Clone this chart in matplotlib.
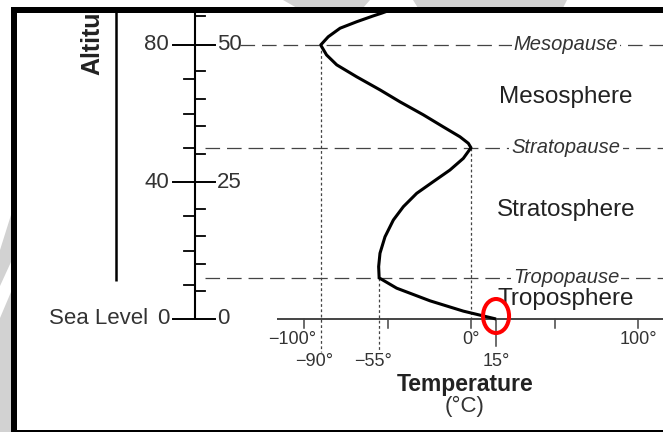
import matplotlib

matplotlib.use("Agg")
import matplotlib.patches as mpatches
import matplotlib.pyplot as plt

plt.rcParams["font.family"] = ["Liberation Sans", "DejaVu Sans"]
plt.rcParams["lines.scale_dashes"] = False

# temperature profile of the standard atmosphere (altitude km, temperature degC)
ALTITUDE_KM = [0, 2.3, 5.3, 9.0, 12,
               15.3, 19.2, 24.0, 28.9, 32.8, 36.7, 40.1, 43.5, 46.9, 49.0, 50,
               51.3, 53.2, 56.1, 59.6, 63.4, 66.9, 70.7, 74.2, 77.1, 80,
               82.4, 84.9, 86.8, 88.5, 89.3, 90.8]
TEMPERATURE_C = [15, -4.6, -24.5, -44.5, -55,
                 -55.3, -54.5, -51.5, -46.5, -40.5, -32.5, -22.6, -12.6, -4.6, -1.5, 0,
                 -1.6, -6.6, -16.6, -28.5, -42.5, -54.5, -68.4, -80.4, -86.5, -90,
                 -85.5, -78.4, -68.4, -58.5, -53.5, -45]

# layer boundaries: name, altitude (km), temperature (degC)
BOUNDARY_NAMES = ["Mesopause", "Stratopause", "Tropopause"]
BOUNDARY_KM = [80, 50, 12]
BOUNDARY_TEMP = [-90, 0, -55]
LAYER_NAMES = ["Mesosphere", "Stratosphere", "Troposphere"]

# temperature scale
TEMP_TICKS = [-100, -50, 0, 50, 100]
TEMP_TICK_LABELS = [-100, 0, 100]
SURFACE_TEMP = 15

# altitude ruler: km on the left, miles on the right
KM_LABELS = [0, 40, 80]
MI_LABELS = [0, 25, 50]
KM_MINOR = [10, 20, 30, 50, 60, 70, 90]
MI_MINOR = [5, 10, 15, 20, 30, 35, 40, 45, 55]
KM_PER_MI = 1.609

W, H = 663, 432
X0_PX, PX_PER_DEG = 471, 1.67
Y0_PX, PX_PER_KM = 319, 3.425
INK = "#333333"


def tx(px):
    return (px - X0_PX) / PX_PER_DEG


def ay(py):
    return (Y0_PX - py) / PX_PER_KM


def fig_box(x0, y0, x1, y1):
    return [x0 / W, 1 - y1 / H, (x1 - x0) / W, (y1 - y0) / H]


fig = plt.figure(figsize=(W / 100, H / 100), dpi=100)

# faint grey watermark strokes outside the frame
for poly in ([(283, 0), (370, 0), (363, 8), (297, 8)],
             [(413, 0), (567, 0), (563, 8), (418, 8)],
             [(0, 250), (11, 215), (11, 262), (0, 286)],
             [(0, 318), (11, 292), (11, 432), (0, 432)]):
    pts = [(x / W, 1 - y / H) for x, y in poly]
    fig.add_artist(mpatches.Polygon(pts, closed=True, facecolor="#d2d2d2",
                                    edgecolor="none", transform=fig.transFigure))

ax = fig.add_axes(fig_box(17, 13, 663, 430))
ax.set_xlim(tx(17), tx(663))
ax.set_ylim(ay(430), ay(13))
ax.axis("off")

# boundary dashed lines with italic names
for name, km in zip(BOUNDARY_NAMES, BOUNDARY_KM):
    start = tx(240) if km == 80 else tx(205)
    ax.plot([start, tx(663)], [km, km], color="#444444", lw=0.9,
            linestyle=(0, (10.5, 5)))
    ax.text(tx(566), km, name, fontsize=14.5, style="italic", color=INK,
            ha="center", va="center",
            bbox=dict(facecolor="white", edgecolor="none", pad=1.5))

for name, py in zip(LAYER_NAMES, [97, 210, 299]):
    ax.text(tx(566), ay(py), name, fontsize=17.5, color="#222222",
            ha="center", va="center")

# dotted drop lines from the turning points
dotted = (0, (2, 1.8))
ax.plot([-90, -90], [80, ay(352)], color="#444444", lw=0.9, linestyle=dotted)
ax.plot([-55, -55], [12, ay(351)], color="#444444", lw=0.9, linestyle=dotted)
ax.plot([0, 0], [50, 0], color="#444444", lw=0.9, linestyle=dotted)

# temperature axis
ax.plot([tx(277), tx(663)], [0, 0], color="#444444", lw=1.4, solid_capstyle="butt")
tick_len = 9 / PX_PER_KM
for t in TEMP_TICKS:
    ax.plot([t, t], [0, -tick_len], color="#444444", lw=1.1)
ax.plot([SURFACE_TEMP, SURFACE_TEMP], [0, ay(346)], color="#444444", lw=1.1)

row1, row2 = ay(339), ay(361)
for t in TEMP_TICK_LABELS:
    label = f"{t}°".replace("-", "\u2212")
    if t < 0:
        ax.annotate(label, (t, row1), xytext=(9, 0), textcoords="offset points",
                    ha="right", va="center", fontsize=13, color=INK)
    else:
        ax.text(t, row1, label, ha="center", va="center", fontsize=13, color=INK)
for t in [BOUNDARY_TEMP[0], BOUNDARY_TEMP[2]]:
    ax.annotate(f"{t}°".replace("-", "\u2212"), (t, row2), xytext=(9, 0),
                textcoords="offset points", ha="right", va="center",
                fontsize=13, color=INK)
ax.text(SURFACE_TEMP, row2, f"{SURFACE_TEMP}°", ha="center", va="center",
        fontsize=13, color=INK)

ax.text(tx(465), ay(384), "Temperature", ha="center", va="center",
        fontsize=16.5, fontweight="bold", color="#222222")
ax.text(tx(465), ay(406), "(°C)", ha="center", va="center", fontsize=16, color=INK)

# altitude ruler
rx = tx(195)
ax.plot([rx, rx], [0, 95], color="black", lw=1.5, solid_capstyle="butt")
for km in KM_MINOR:
    ax.plot([tx(184), rx], [km, km], color="black", lw=1.3)
for mi in MI_MINOR:
    ax.plot([rx, tx(205)], [mi * KM_PER_MI, mi * KM_PER_MI], color="black", lw=1.3)
for km, mi in zip(KM_LABELS, MI_LABELS):
    ax.plot([tx(173), tx(215)], [km, km], color="black", lw=1.4)
    ax.text(tx(169), km, str(km), ha="right", va="center", fontsize=16, color=INK)
    ax.text(tx(217), km, str(mi), ha="left", va="center", fontsize=16, color=INK)
ax.text(tx(148), 0, "Sea Level", ha="right", va="center", fontsize=16, color=INK)

ax.plot([tx(116), tx(116)], [ay(281), 95], color="black", lw=1.8, solid_capstyle="butt")
ax.text(tx(92), ay(75), "Altitude", rotation=90, ha="center", va="bottom",
        fontsize=18, fontweight="bold", color="#222222", clip_on=True)

# temperature profile
ax.plot(TEMPERATURE_C, ALTITUDE_KM, color="black", lw=2.2, solid_joinstyle="round",
        solid_capstyle="butt", zorder=4)

ax.add_patch(mpatches.Ellipse((SURFACE_TEMP, ay(316)), 26 / PX_PER_DEG, 34 / PX_PER_KM,
                              fill=False, edgecolor="#ff0000", lw=2.9, zorder=5))

# picture frame
for box in ((11, 7, 17, 432), (11, 7, 663, 13), (11, 430, 663, 432)):
    fig.add_artist(mpatches.Rectangle(fig_box(*box)[:2], *fig_box(*box)[2:],
                                      facecolor="black", edgecolor="none",
                                      transform=fig.transFigure))

fig.savefig("out.png", dpi=100, facecolor="white")
